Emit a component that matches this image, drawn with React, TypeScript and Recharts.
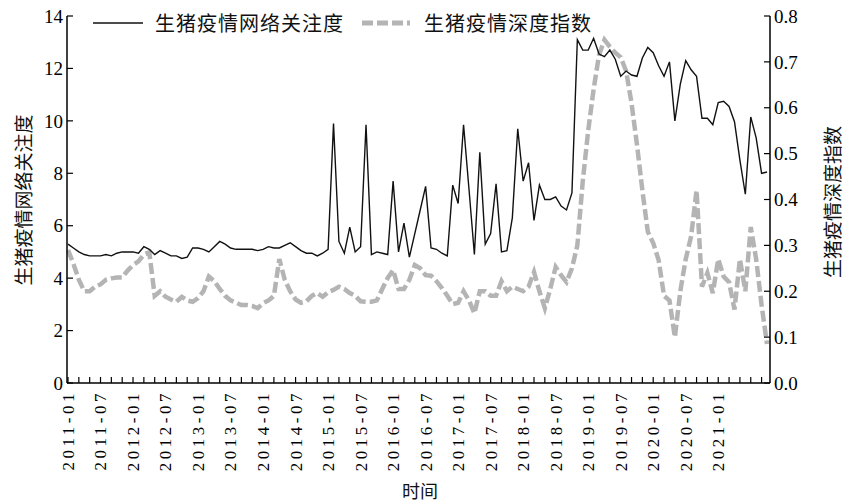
import { Line, LineChart, XAxis, YAxis } from 'recharts';

// 生猪疫情网络关注度 (left axis), monthly from 2011-01
const attention = [
  5.3, 5.15, 5.0, 4.9, 4.85, 4.85, 4.85, 4.9, 4.85, 4.95, 5.0, 5.0,
  5.0, 4.95, 5.2, 5.1, 4.9, 5.05, 4.95, 4.85, 4.85, 4.75, 4.8, 5.15,
  5.15, 5.1, 5.0, 5.2, 5.4, 5.3, 5.15, 5.1, 5.1, 5.1, 5.1, 5.05,
  5.1, 5.2, 5.15, 5.15, 5.25, 5.35, 5.2, 5.05, 4.95, 4.95, 4.85, 4.95,
  5.1, 9.9, 5.4, 4.95, 5.95, 5.0, 5.2, 9.85, 4.9, 5.0, 4.95, 4.9,
  7.7, 5.0, 6.1, 4.8, 5.7, 6.6, 7.5, 5.15, 5.1, 4.95, 4.85, 7.55,
  6.85, 9.85, 7.4, 4.9, 8.8, 5.3, 5.7, 7.6, 5.0, 5.05, 6.3, 9.7,
  7.7, 8.4, 6.2, 7.55, 7.0, 7.0, 7.1, 6.75, 6.6, 7.25, 13.1, 12.7,
  12.7, 13.15, 12.55, 12.45, 12.7, 12.35, 11.7, 11.9, 11.75, 11.7, 12.4, 12.8,
  12.6, 12.1, 11.7, 12.25, 10.0, 11.4, 12.3, 11.95, 11.7, 10.1, 10.1, 9.85,
  10.7, 10.75, 10.55, 9.97, 8.5, 7.2, 10.15, 9.35, 8.0, 8.05,
];

// 生猪疫情深度指数 (right axis)
const depthIndex = [
  0.29, 0.26, 0.225, 0.2, 0.2, 0.21, 0.215, 0.225, 0.228, 0.23, 0.23, 0.245,
  0.257, 0.265, 0.28, 0.285, 0.19, 0.2, 0.188, 0.182, 0.177, 0.188, 0.18, 0.177,
  0.185, 0.2, 0.232, 0.222, 0.205, 0.19, 0.18, 0.175, 0.17, 0.17, 0.168, 0.163,
  0.174, 0.18, 0.19, 0.27, 0.225, 0.2, 0.182, 0.175, 0.178, 0.19, 0.196, 0.188,
  0.198, 0.203, 0.21, 0.205, 0.196, 0.19, 0.178, 0.177, 0.177, 0.18, 0.205, 0.229,
  0.246, 0.205, 0.205, 0.225, 0.257, 0.25, 0.235, 0.234, 0.222, 0.207, 0.19, 0.172,
  0.175, 0.2, 0.18, 0.152, 0.2, 0.2, 0.19, 0.19, 0.222, 0.2, 0.21, 0.205,
  0.2, 0.21, 0.242, 0.2, 0.163, 0.205, 0.253, 0.235, 0.22, 0.25, 0.3, 0.44,
  0.55, 0.64, 0.715, 0.748, 0.733, 0.72, 0.71, 0.68, 0.61, 0.52, 0.42, 0.33,
  0.305, 0.268, 0.19, 0.18, 0.1, 0.2, 0.27, 0.32, 0.42, 0.21, 0.24, 0.196,
  0.27, 0.232, 0.22, 0.16, 0.27, 0.2, 0.34, 0.27, 0.17, 0.085,
];

const months = attention.map((_, i) => {
  const y = 2011 + Math.floor(i / 12);
  const m = (i % 12) + 1;
  return `${y}-${m < 10 ? '0' + m : m}`;
});

const monthLabels = months.filter((_, i) => i % 6 === 0 && i <= 120);
const leftTicks = [0, 2, 4, 6, 8, 10, 12, 14];
const rightTicks = [0, 0.1, 0.2, 0.3, 0.4, 0.5, 0.6, 0.7, 0.8];

const data = months.map((month, i) => ({
  month,
  attention: attention[i],
  depth: depthIndex[i],
}));

const numFont = 'Liberation Serif';
const cjkFont = 'Noto Sans CJK SC, sans-serif';
const grey = '#b4b4b4';

function MonthTick(props: any) {
  const { x, y, payload } = props;
  const i = months.indexOf(payload.value);
  const showLabel = monthLabels.includes(payload.value);
  return (
    <g>
      {i % 2 === 0 && <line x1={x} x2={x} y1={y} y2={y - 6} stroke="#000" strokeWidth={1.2} />}
      {showLabel && (
        <text
          x={x}
          y={y + 7}
          transform={`rotate(-90 ${x} ${y + 7})`}
          textAnchor="end"
          dy="0.35em"
          fontSize={17}
          letterSpacing={3.5}
          fontFamily={numFont}
          fill="#000"
        >
          {payload.value}
        </text>
      )}
    </g>
  );
}

function LeftTick(props: any) {
  const { x, y, payload } = props;
  return (
    <g>
      <line x1={x} x2={x + 6} y1={y} y2={y} stroke="#000" strokeWidth={1.2} />
      <text x={x - 4} y={y} dy="0.35em" textAnchor="end" fontSize={19} fontFamily={numFont} fill="#000">
        {payload.value}
      </text>
    </g>
  );
}

function RightTick(props: any) {
  const { x, y, payload } = props;
  return (
    <g>
      <line x1={x} x2={x - 6} y1={y} y2={y} stroke="#000" strokeWidth={1.2} />
      <text x={x + 4} y={y} dy="0.35em" textAnchor="start" fontSize={19} fontFamily={numFont} fill="#000">
        {Number(payload.value).toFixed(1)}
      </text>
    </g>
  );
}

export default function App() {
  return (
    <div style={{ position: 'absolute', left: 0, top: 0, width: 843, height: 503, background: '#fff', fontFamily: cjkFont, color: '#111' }}>
      <LineChart width={843} height={503} data={data} margin={{ top: 16, right: 0, bottom: 0, left: 0 }}>
        <XAxis
          dataKey="month"
          type="category"
          interval={0}
          height={120}
          padding={{ left: 1, right: 3 }}
          tickSize={0}
          tickMargin={0}
          tickLine={false}
          axisLine={{ stroke: '#000', strokeWidth: 1.5 }}
          tick={<MonthTick />}
        />
        <YAxis
          yAxisId="left"
          domain={[0, 14]}
          ticks={leftTicks}
          width={67}
          tickSize={0}
          tickMargin={0}
          tickLine={false}
          axisLine={{ stroke: '#000', strokeWidth: 1.5 }}
          tick={<LeftTick />}
        />
        <YAxis
          yAxisId="right"
          orientation="right"
          domain={[0, 0.8]}
          ticks={rightTicks}
          width={73}
          tickSize={0}
          tickMargin={0}
          tickLine={false}
          axisLine={{ stroke: '#000', strokeWidth: 1.5 }}
          tick={<RightTick />}
        />
        <Line
          yAxisId="right"
          dataKey="depth"
          stroke={grey}
          strokeWidth={4.5}
          strokeDasharray="11 4"
          dot={false}
          isAnimationActive={false}
        />
        <Line
          yAxisId="left"
          dataKey="attention"
          stroke="#111"
          strokeWidth={1.4}
          dot={false}
          isAnimationActive={false}
        />
      </LineChart>

      {/* legend */}
      <div style={{ position: 'absolute', left: 93, top: 8, display: 'flex', alignItems: 'center', fontSize: 20, whiteSpace: 'nowrap' }}>
        <svg width={50} height={10}>
          <line x1={0} x2={50} y1={5} y2={5} stroke="#111" strokeWidth={1.6} />
        </svg>
        <span style={{ marginLeft: 12, letterSpacing: 1 }}>生猪疫情网络关注度</span>
        <svg width={48} height={10} style={{ marginLeft: 18 }}>
          <line x1={0} x2={48} y1={5} y2={5} stroke={grey} strokeWidth={5} strokeDasharray="11 4" />
        </svg>
        <span style={{ marginLeft: 14, letterSpacing: 1 }}>生猪疫情深度指数</span>
      </div>

      {/* axis titles */}
      <div style={{ position: 'absolute', left: 22, top: 200, transform: 'translate(-50%, -50%) rotate(-90deg)', fontSize: 19, lineHeight: 1, whiteSpace: 'nowrap' }}>
        生猪疫情网络关注度
      </div>
      <div style={{ position: 'absolute', left: 831, top: 202, transform: 'translate(-50%, -50%) rotate(-90deg)', fontSize: 19, lineHeight: 1, whiteSpace: 'nowrap' }}>
        生猪疫情深度指数
      </div>
      <div style={{ position: 'absolute', left: 420, top: 490, transform: 'translate(-50%, -50%)', fontSize: 18, lineHeight: 1, whiteSpace: 'nowrap' }}>
        时间
      </div>
    </div>
  );
}
